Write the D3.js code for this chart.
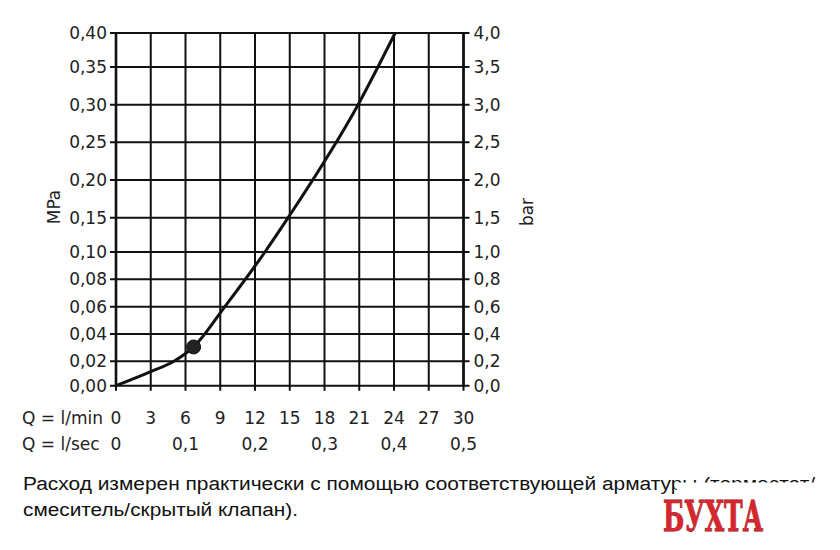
<!DOCTYPE html>
<html><head><meta charset="utf-8">
<script src="https://cdn.jsdelivr.net/npm/d3@7"></script>
<style>html,body{margin:0;padding:0;background:#fff}</style>
</head><body><svg id="c" width="840" height="550"></svg>
<script>
// ---- data ----
const flowLmin     = [0, 3, 5, 6.7, 9.4, 12.86, 14.9, 20.9, 24.1];
const pressureMPa  = [0, 0.0115, 0.02, 0.0305, 0.06, 0.10, 0.151, 0.30, 0.40];
const markerFlow   = [6.7];
const markerPress  = [0.0305];
const mpaTicks     = [0, 0.02, 0.04, 0.06, 0.08, 0.10, 0.15, 0.20, 0.25, 0.30, 0.35, 0.40];
const mpaLabels    = ["0,00","0,02","0,04","0,06","0,08","0,10","0,15","0,20","0,25","0,30","0,35","0,40"];
const barLabels    = ["0,0","0,2","0,4","0,6","0,8","1,0","1,5","2,0","2,5","3,0","3,5","4,0"];
const lminTicks    = [0, 3, 6, 9, 12, 15, 18, 21, 24, 27, 30];
const lsecTicks    = [0, 0.1, 0.2, 0.3, 0.4, 0.5];
const lsecLabels   = ["0","0,1","0,2","0,3","0,4","0,5"];
const rowTitles    = ["Q = l/min", "Q = l/sec"];
const noteLines    = ["Расход измерен практически с помощью соответствующей арматуры (термостат/",
                      "смеситель/скрытый клапан)."];
const watermark    = "БУХТА";

// ---- layout ----
const L = 116, R = 463.5, T = 33, B = 385.7;
const svg = d3.select("#c");
const axisFont = "'DejaVu Sans', sans-serif";
const ink = "#111";

const x = d3.scaleLinear().domain([0, 30]).range([L, R]);
// non-uniform pressure axis (piecewise linear, as printed)
const y = d3.scaleLinear()
  .domain([0, 0.02, 0.10, 0.15, 0.35, 0.40])
  .range([B, 361.3, 252, 217.7, 67, T]);

// grid
const g = svg.append("g");
g.selectAll("line.v").data(lminTicks).join("line")
  .attr("x1", d => x(d)).attr("x2", d => x(d))
  .attr("y1", T).attr("y2", B + 5)
  .attr("stroke", ink).attr("stroke-width", 2);
g.selectAll("line.h").data(mpaTicks).join("line")
  .attr("x1", L - 6).attr("x2", R + 6)
  .attr("y1", d => y(d)).attr("y2", d => y(d))
  .attr("stroke", ink).attr("stroke-width", 2);
[L, R].forEach(px => g.append("line").attr("x1", px).attr("x2", px)
  .attr("y1", T - 1).attr("y2", B + 1).attr("stroke", ink).attr("stroke-width", 2.6));

// left labels
svg.append("g").selectAll("text").data(mpaTicks).join("text")
  .attr("x", L - 9).attr("y", d => y(d)).attr("dy", "0.36em")
  .attr("text-anchor", "end").attr("font-family", axisFont).attr("font-size", 17)
  .attr("fill", "#222").text((d, i) => mpaLabels[i]);
// right labels
svg.append("g").selectAll("text").data(mpaTicks).join("text")
  .attr("x", R + 10).attr("y", d => y(d)).attr("dy", "0.36em")
  .attr("text-anchor", "start").attr("font-family", axisFont).attr("font-size", 17)
  .attr("fill", "#222").text((d, i) => barLabels[i]);

// axis titles
svg.append("text").attr("transform", "translate(60,207) rotate(-90)")
  .attr("text-anchor", "middle").attr("font-family", axisFont).attr("font-size", 17)
  .attr("fill", "#222").text("MPa");
svg.append("text").attr("transform", "translate(533,212) rotate(-90)")
  .attr("text-anchor", "middle").attr("font-family", axisFont).attr("font-size", 17)
  .attr("fill", "#222").text("bar");

// bottom rows
const row1 = 424, row2 = 450;
svg.append("text").attr("x", 22).attr("y", row1).attr("font-family", axisFont)
  .attr("font-size", 17).attr("fill", "#222").text(rowTitles[0]);
svg.append("text").attr("x", 22).attr("y", row2).attr("font-family", axisFont)
  .attr("font-size", 17).attr("fill", "#222").text(rowTitles[1]);
svg.append("g").selectAll("text").data(lminTicks).join("text")
  .attr("x", d => x(d)).attr("y", row1).attr("text-anchor", "middle")
  .attr("font-family", axisFont).attr("font-size", 17).attr("fill", "#222").text(d => d);
svg.append("g").selectAll("text").data(lsecTicks).join("text")
  .attr("x", d => x(d * 60)).attr("y", row2).attr("text-anchor", "middle")
  .attr("font-family", axisFont).attr("font-size", 17).attr("fill", "#222")
  .text((d, i) => lsecLabels[i]);

// curve
const pts = flowLmin.map((q, i) => [q, pressureMPa[i]]);
const line = d3.line().x(d => x(d[0])).y(d => y(d[1])).curve(d3.curveMonotoneX);
svg.append("path").attr("d", line(pts)).attr("fill", "none")
  .attr("stroke", ink).attr("stroke-width", 3).attr("stroke-linejoin", "round");
svg.selectAll("circle.m").data(markerFlow).join("circle")
  .attr("cx", d => x(d)).attr("cy", (d, i) => y(markerPress[i])).attr("r", 7)
  .attr("fill", "#222").attr("stroke", ink).attr("stroke-width", 1);

// note text
const noteFont = "'Liberation Sans', Arial, sans-serif";
svg.append("text").attr("x", 23).attr("y", 490).attr("font-family", noteFont)
  .attr("font-size", 18).attr("fill", "#111")
  .attr("textLength", 792).attr("lengthAdjust", "spacingAndGlyphs").text(noteLines[0]);
svg.append("text").attr("x", 23).attr("y", 516).attr("font-family", noteFont)
  .attr("font-size", 18).attr("fill", "#111")
  .attr("textLength", 275).attr("lengthAdjust", "spacingAndGlyphs").text(noteLines[1]);

// watermark
svg.append("rect").attr("x", 677).attr("y", 482.5).attr("width", 150).attr("height", 62).attr("fill", "#fff");
svg.append("text").attr("x", 663).attr("y", 531)
  .attr("font-family", "'DejaVu Serif Condensed','DejaVu Serif',serif").attr("font-weight", "bold")
  .attr("font-size", 42).attr("textLength", 100).attr("lengthAdjust", "spacingAndGlyphs")
  .attr("fill", "#d7262d").attr("stroke", "#7a1116").attr("stroke-width", 0.8)
  .attr("paint-order", "stroke").text(watermark);
</script></body></html>
